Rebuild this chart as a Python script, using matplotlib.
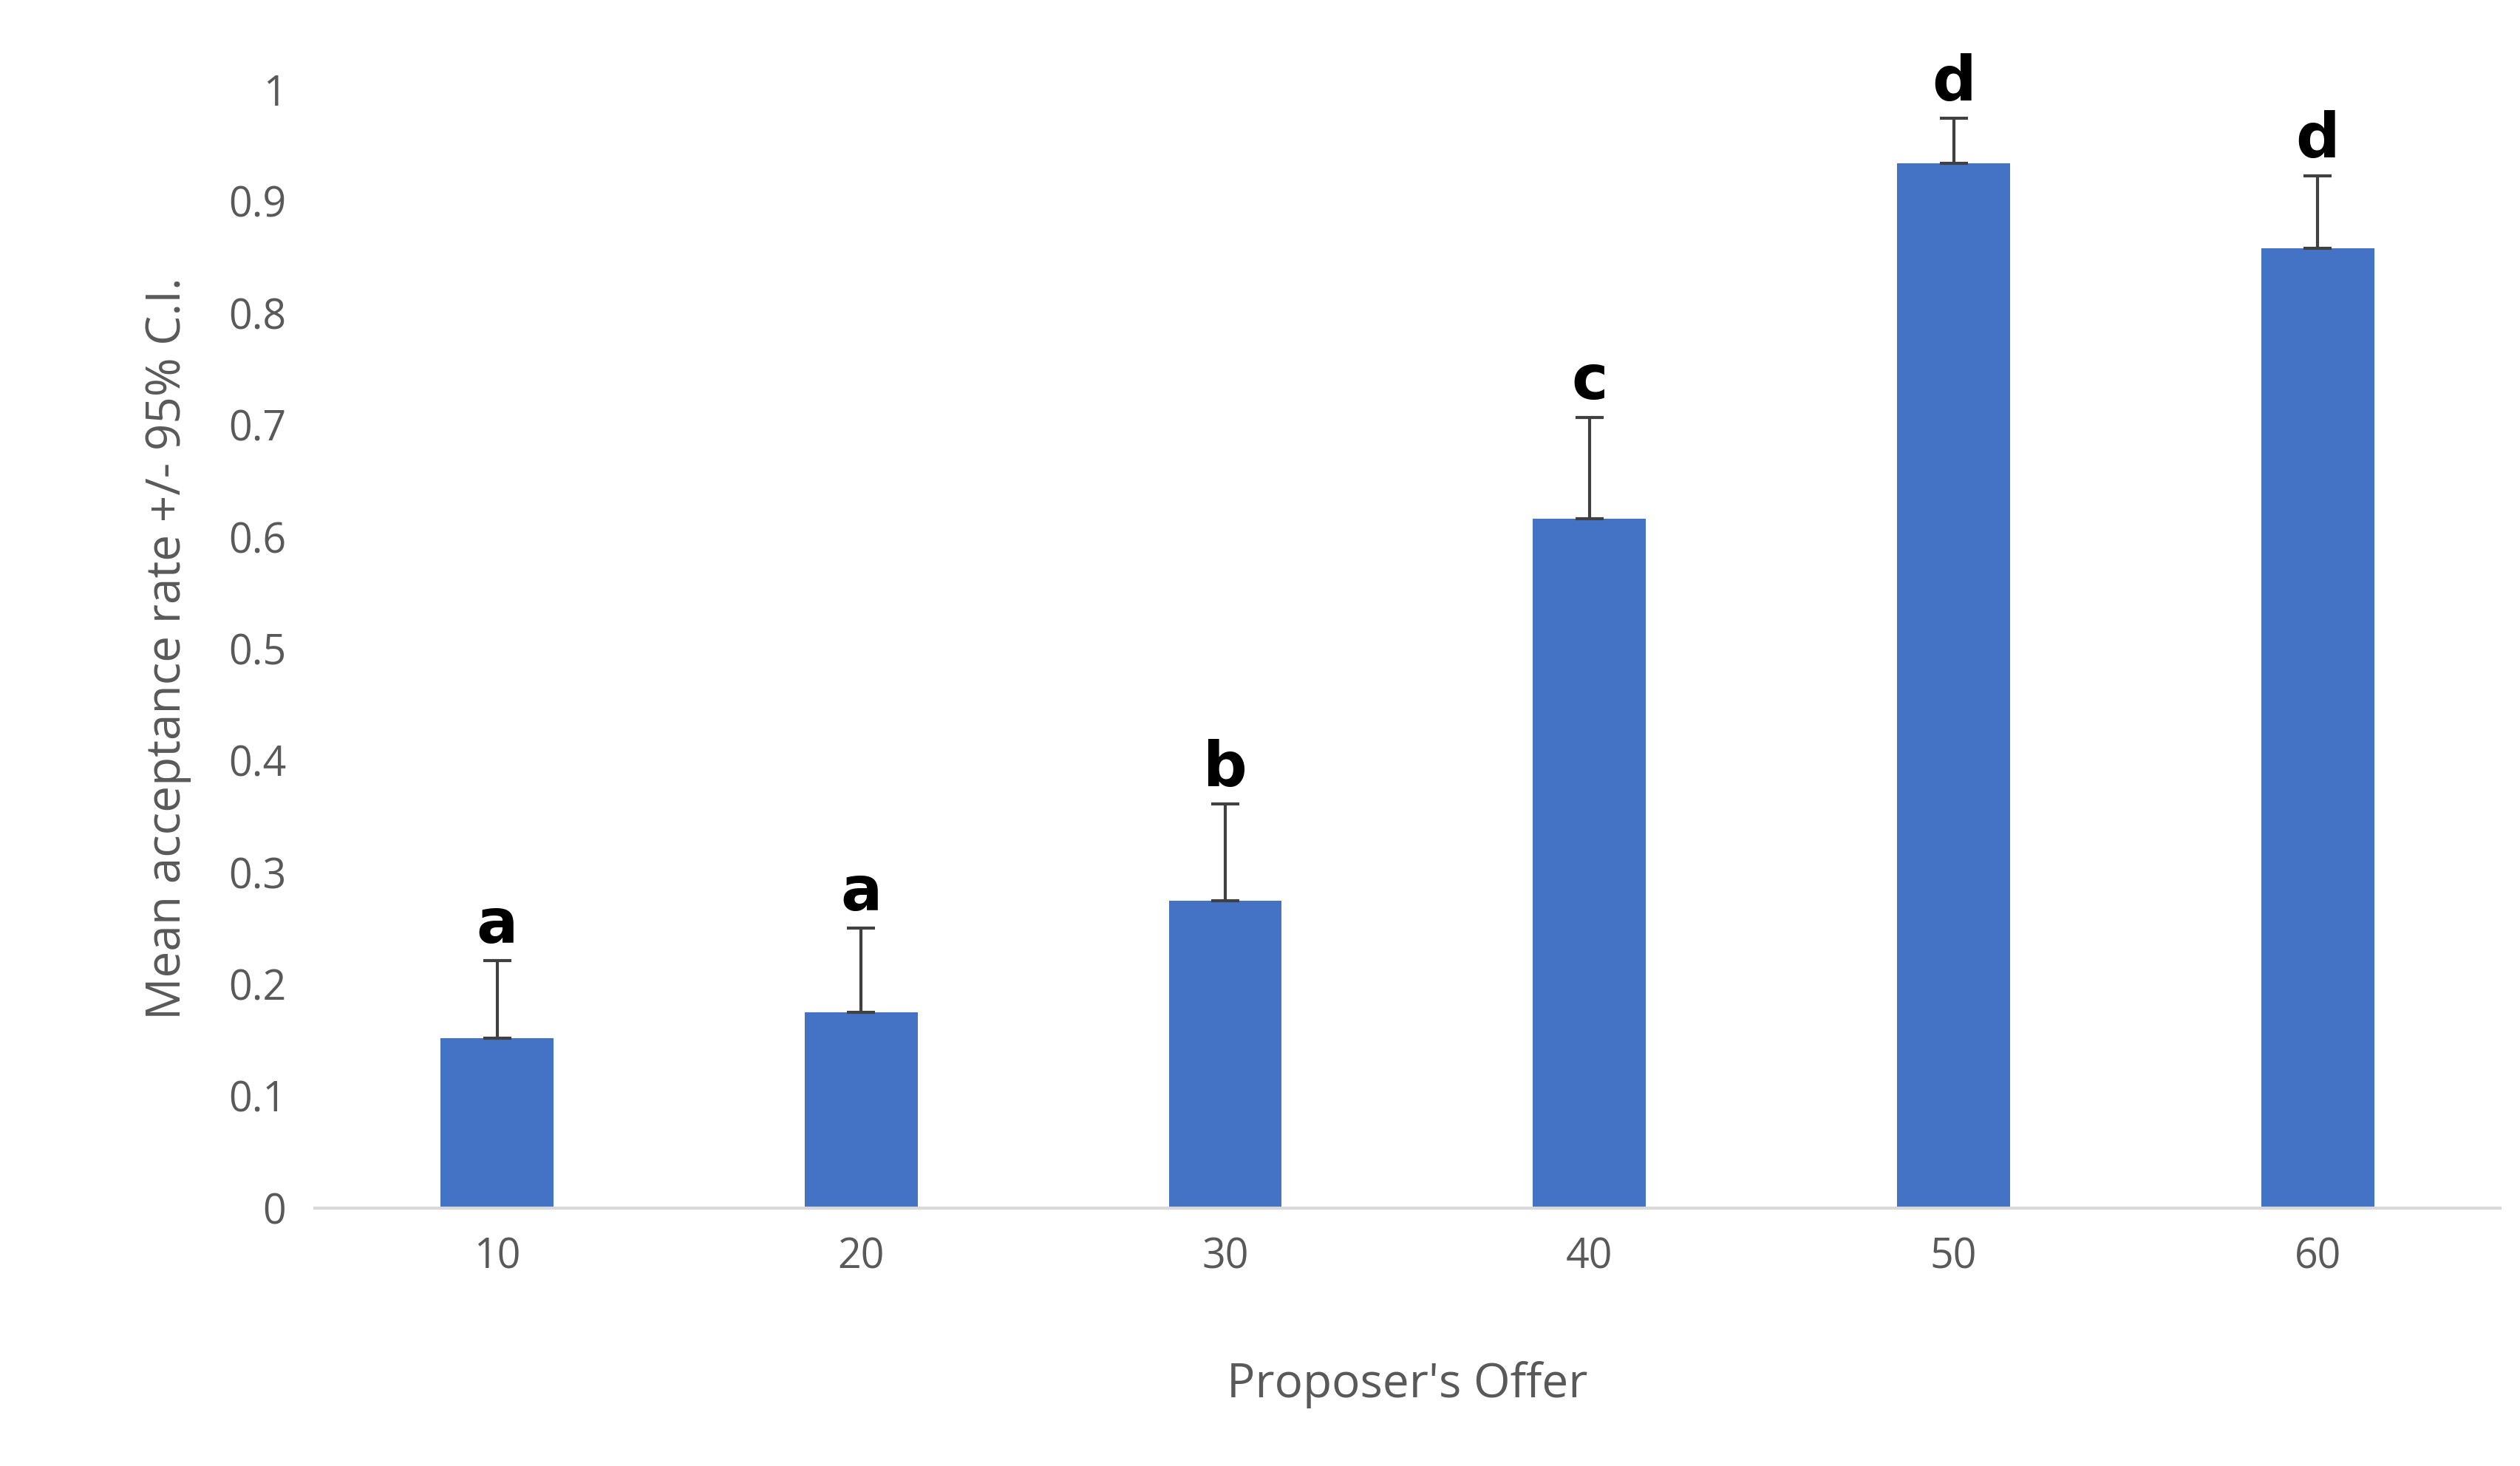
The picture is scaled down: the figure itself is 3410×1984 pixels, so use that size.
import numpy as np
import matplotlib.pyplot as plt

offers = ['10', '20', '30', '40', '50', '60']
means = [0.152, 0.175, 0.275, 0.616, 0.934, 0.858]
ci_upper = [0.221, 0.250, 0.361, 0.707, 0.974, 0.923]
letters = ['a', 'a', 'b', 'c', 'd', 'd']

plt.rcParams['font.family'] = ['Open Sans', 'DejaVu Sans']

fig = plt.figure(figsize=(17.05, 9.92), dpi=200)
ax = fig.add_axes([0.125, 0.176, 0.867, 0.763])

x = np.arange(len(offers))
err = np.array(ci_upper) - np.array(means)
ax.bar(x, means, width=0.31, color='#4472C4', zorder=2)
ax.errorbar(x, means, yerr=[np.zeros_like(err), err], fmt='none',
            ecolor='#404040', elinewidth=1.5, capsize=7, capthick=1.5, zorder=3)
for xi, top, lab in zip(x, ci_upper, letters):
    ax.text(xi, top + 0.005, lab, ha='center', va='bottom', fontsize=30,
            fontweight='bold', family='DejaVu Sans', color='black')

ax.set_xlim(-0.5, 5.5)
ax.set_ylim(0, 1)
ax.set_yticks(np.arange(0, 1.01, 0.1))
ax.set_yticklabels(['0', '0.1', '0.2', '0.3', '0.4', '0.5', '0.6', '0.7', '0.8', '0.9', '1'])
ax.set_xticks(x)
ax.set_xticklabels(offers)
ax.tick_params(axis='both', length=0, labelsize=20, labelcolor='#595959', pad=14)
for s in ['top', 'right', 'left']:
    ax.spines[s].set_visible(False)
ax.spines['bottom'].set_color('#D9D9D9')
ax.spines['bottom'].set_linewidth(1.5)
ax.set_xlabel("Proposer's Offer", fontsize=23, color='#595959', labelpad=40)
ax.set_ylabel('Mean acceptance rate +/- 95% C.I.', fontsize=23, color='#595959', labelpad=18)

fig.savefig('out.png')
